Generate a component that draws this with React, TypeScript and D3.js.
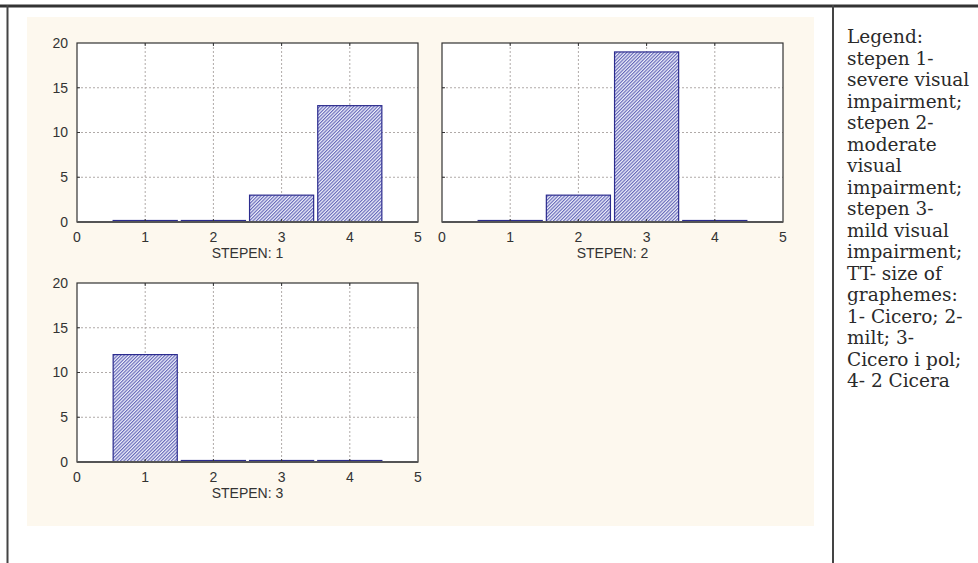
import React from "react";
import * as d3 from "d3";

const categories = [1, 2, 3, 4];
const stepen1 = [0, 0, 3, 13];
const stepen2 = [0, 3, 19, 0];
const stepen3 = [12, 0, 0, 0];
const xTicks = [0, 1, 2, 3, 4, 5];
const yTicks = [0, 5, 10, 15, 20];
const panelTitles = ["STEPEN: 1", "STEPEN: 2", "STEPEN: 3"];
const legendLines = [
  "Legend:",
  "stepen 1-",
  "severe visual",
  "impairment;",
  "stepen 2-",
  "moderate",
  "visual",
  "impairment;",
  "stepen 3-",
  "mild visual",
  "impairment;",
  "TT- size of",
  "graphemes:",
  "1- Cicero; 2-",
  "milt; 3-",
  "Cicero i pol;",
  "4- 2 Cicera",
];

const W = 978;
const H = 563;
const PW = 341;
const PH = 179;
const panels = [
  { x: 77, y: 43, values: stepen1, title: panelTitles[0], yLabels: true },
  { x: 442, y: 43, values: stepen2, title: panelTitles[1], yLabels: false },
  { x: 77, y: 283, values: stepen3, title: panelTitles[2], yLabels: true },
];

const AXIS_FONT = "'Liberation Sans', Arial, sans-serif";
const TEXT = "#333";

function Panel({ x, y, values, title, yLabels }: { x: number; y: number; values: number[]; title: string; yLabels: boolean }) {
  const xs = d3.scaleLinear().domain([0, 5]).range([0, PW]);
  const ys = d3.scaleLinear().domain([0, 20]).range([PH, 0]);
  const half = 0.47;
  return (
    <g transform={`translate(${x},${y})`}>
      <rect x={0} y={0} width={PW} height={PH} fill="#fff" />
      {xTicks.slice(1, -1).map((t) => (
        <line key={"gx" + t} x1={xs(t)} x2={xs(t)} y1={0} y2={PH} stroke="#b0aaa8" strokeDasharray="2,2" strokeWidth={1} />
      ))}
      {yTicks.slice(1, -1).map((t) => (
        <line key={"gy" + t} x1={0} x2={PW} y1={ys(t)} y2={ys(t)} stroke="#b0aaa8" strokeDasharray="2,2" strokeWidth={1} />
      ))}
      {categories.map((c, i) => {
        const v = values[i];
        const top = Math.min(ys(v), ys(0) - 1.5);
        return (
          <rect
            key={"b" + c}
            x={xs(c - half)}
            y={top}
            width={xs(c + half) - xs(c - half)}
            height={ys(0) - top}
            fill="url(#hatch)"
            stroke="#2c2c8e"
            strokeWidth={1.2}
          />
        );
      })}
      {xTicks.slice(1, -1).map((t) => (
        <g key={"tk" + t}>
          <line x1={xs(t)} x2={xs(t)} y1={0} y2={3} stroke="#333" />
          <line x1={xs(t)} x2={xs(t)} y1={PH} y2={PH - 3} stroke="#333" />
        </g>
      ))}
      {yTicks.slice(1, -1).map((t) => (
        <line key={"tky" + t} x1={0} x2={3} y1={ys(t)} y2={ys(t)} stroke="#333" />
      ))}
      <rect x={0} y={0} width={PW} height={PH} fill="none" stroke="#333" strokeWidth={1.2} />
      <line x1={0} x2={PW} y1={PH} y2={PH} stroke="#555" strokeWidth={2} />
      {yLabels &&
        yTicks.map((t) => (
          <text key={"yl" + t} x={-9} y={ys(t)} dy="0.35em" textAnchor="end" fontSize={14} fontFamily={AXIS_FONT} fill={TEXT}>
            {t}
          </text>
        ))}
      {xTicks.map((t) => (
        <text key={"xl" + t} x={xs(t)} y={PH + 20} textAnchor="middle" fontSize={14} fontFamily={AXIS_FONT} fill={TEXT}>
          {t}
        </text>
      ))}
      <text x={PW / 2} y={PH + 36} textAnchor="middle" fontSize={14} fontFamily={AXIS_FONT} fill={TEXT}>
        {title}
      </text>
    </g>
  );
}

export default function App() {
  return (
    <svg width={W} height={H} style={{ position: "absolute", left: 0, top: 0, background: "#fff" }}>
      <defs>
        <pattern id="hatch" patternUnits="userSpaceOnUse" width={2.4} height={2.4} patternTransform="rotate(45)">
          <rect width={2.4} height={2.4} fill="#eef0fa" />
          <line x1={0.6} y1={0} x2={0.6} y2={2.4} stroke="#5254b0" strokeWidth={1} />
        </pattern>
      </defs>
      <rect x={0} y={0} width={W} height={H} fill="#fff" />
      <rect x={27} y={17} width={787} height={509} fill="#fdf8ee" />
      {panels.map((p, i) => (
        <Panel key={i} {...p} />
      ))}
      <line x1={0} x2={W} y1={6} y2={6} stroke="#333" strokeWidth={3} />
      <line x1={7.5} x2={7.5} y1={5} y2={H} stroke="#444" strokeWidth={2} />
      <line x1={833} x2={833} y1={5} y2={H} stroke="#444" strokeWidth={2} />
      {legendLines.map((l, i) => (
        <text key={i} x={847} y={43 + i * 21.5} fontSize={18.5} fontFamily="'DejaVu Serif', serif" fill="#2a2a2a">
          {l}
        </text>
      ))}
    </svg>
  );
}
